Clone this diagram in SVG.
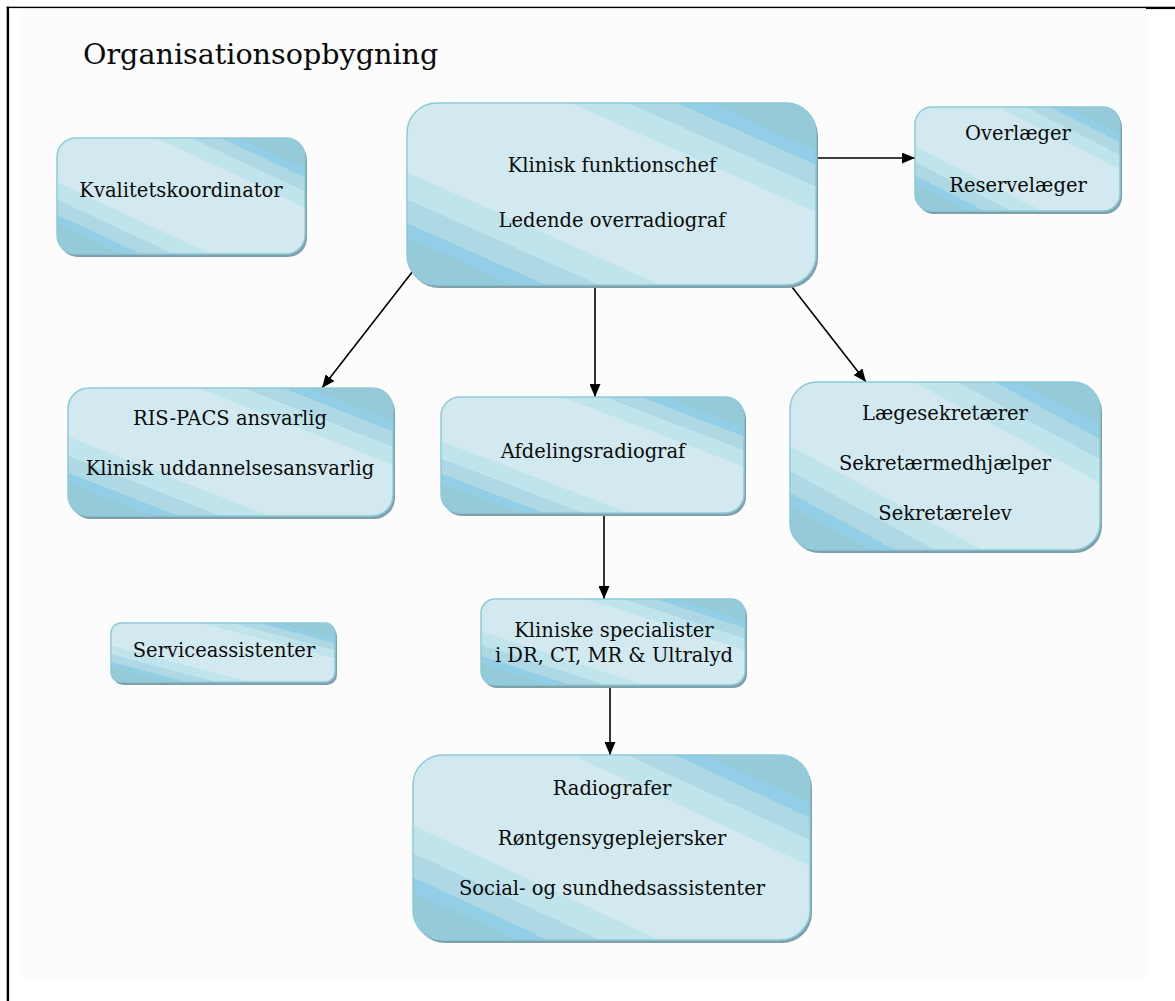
<svg xmlns="http://www.w3.org/2000/svg" width="1175" height="1001" viewBox="0 0 1175 1001">
<defs>
<linearGradient id="fillGrad" x1="0" y1="1" x2="1" y2="0">
<stop offset="0" stop-color="#95cbd8"/>
<stop offset="0.13" stop-color="#95cbd8"/>
<stop offset="0.13" stop-color="#92cfe7"/>
<stop offset="0.17" stop-color="#92cfe7"/>
<stop offset="0.17" stop-color="#aed8e3"/>
<stop offset="0.235" stop-color="#aed8e3"/>
<stop offset="0.235" stop-color="#c0e4eb"/>
<stop offset="0.31" stop-color="#c0e4eb"/>
<stop offset="0.31" stop-color="#d2eaef"/>
<stop offset="0.70" stop-color="#d2eaef"/>
<stop offset="0.70" stop-color="#c0e4eb"/>
<stop offset="0.77" stop-color="#c0e4eb"/>
<stop offset="0.77" stop-color="#aed8e3"/>
<stop offset="0.83" stop-color="#aed8e3"/>
<stop offset="0.83" stop-color="#92cfe7"/>
<stop offset="0.87" stop-color="#92cfe7"/>
<stop offset="0.87" stop-color="#95cbd8"/>
<stop offset="1" stop-color="#95cbd8"/>
</linearGradient>
<marker id="arrow" markerUnits="userSpaceOnUse" markerWidth="13" markerHeight="11" refX="13" refY="5.5" orient="auto">
<path d="M0,0 L13,5.5 L0,11 z" fill="#000"/>
</marker>
</defs>
<style>
.shadow { fill: #7fa0aa; }
.box { fill: url(#fillGrad); stroke: #8ccad9; stroke-width: 1.5; }
.lbl { font-family: "DejaVu Serif", "Liberation Serif", serif; font-size: 19.5px; fill: #0a0a0a; text-anchor: middle; }
.title { font-family: "DejaVu Serif", "Liberation Serif", serif; font-size: 28.6px; fill: #0a0a0a; }
.conn { stroke: #000; stroke-width: 1.6; fill: none; marker-end: url(#arrow); }
</style>

<rect x="22" y="8" width="1124" height="970" fill="#fcfcfc"/>
<rect x="6.7" y="6.7" width="2.4" height="995" fill="#000"/>
<rect x="6.7" y="6.7" width="1140" height="1.4" fill="#000"/>
<rect x="1146" y="6.7" width="29" height="2.4" fill="#000"/>

<text class="title" x="83" y="64">Organisationsopbygning</text>

<g id="connectors">
<line class="conn" x1="818" y1="158" x2="915" y2="158"/>
<line class="conn" x1="413" y1="271" x2="322" y2="388"/>
<line class="conn" x1="595" y1="288" x2="595" y2="397"/>
<line class="conn" x1="792" y1="287" x2="866" y2="382"/>
<line class="conn" x1="604" y1="516" x2="604" y2="599"/>
<line class="conn" x1="610" y1="688" x2="610" y2="755"/>
</g>

<g id="kvalitet">
<rect class="shadow" x="59" y="141" width="248" height="116" rx="19"/>
<rect class="box" x="57" y="138" width="248" height="116" rx="19"/>
<text class="lbl" x="181" y="197">Kvalitetskoordinator</text>
</g>

<g id="chef">
<rect class="shadow" x="409" y="106" width="409" height="182" rx="30"/>
<rect class="box" x="407" y="103" width="409" height="182" rx="30"/>
<text class="lbl" x="612" y="172">Klinisk funktionschef</text>
<text class="lbl" x="612" y="227">Ledende overradiograf</text>
</g>

<g id="overlaeger">
<rect class="shadow" x="917" y="110" width="205" height="104" rx="17"/>
<rect class="box" x="915" y="107" width="205" height="104" rx="17"/>
<text class="lbl" x="1018" y="140">Overlæger</text>
<text class="lbl" x="1018" y="192">Reservelæger</text>
</g>

<g id="rispacs">
<rect class="shadow" x="70" y="391" width="325" height="128" rx="21"/>
<rect class="box" x="68" y="388" width="325" height="128" rx="21"/>
<text class="lbl" x="230" y="425">RIS-PACS ansvarlig</text>
<text class="lbl" x="230" y="475">Klinisk uddannelsesansvarlig</text>
</g>

<g id="afdeling">
<rect class="shadow" x="443" y="400" width="303" height="116" rx="19"/>
<rect class="box" x="441" y="397" width="303" height="116" rx="19"/>
<text class="lbl" x="593" y="458">Afdelingsradiograf</text>
</g>

<g id="sekretaer">
<rect class="shadow" x="792" y="385" width="310" height="168" rx="27"/>
<rect class="box" x="790" y="382" width="310" height="168" rx="27"/>
<text class="lbl" x="945" y="420">Lægesekretærer</text>
<text class="lbl" x="945" y="470">Sekretærmedhjælper</text>
<text class="lbl" x="945" y="520">Sekretærelev</text>
</g>

<g id="service">
<rect class="shadow" x="113" y="626" width="224" height="59" rx="10"/>
<rect class="box" x="111" y="623" width="224" height="59" rx="10"/>
<text class="lbl" x="224" y="657">Serviceassistenter</text>
</g>

<g id="specialister">
<rect class="shadow" x="483" y="602" width="264" height="86" rx="14"/>
<rect class="box" x="481" y="599" width="264" height="86" rx="14"/>
<text class="lbl" x="614" y="637">Kliniske specialister</text>
<text class="lbl" x="614" y="662">i DR, CT, MR &amp; Ultralyd</text>
</g>

<g id="radiografer">
<rect class="shadow" x="415" y="758" width="397" height="185" rx="30"/>
<rect class="box" x="413" y="755" width="397" height="185" rx="30"/>
<text class="lbl" x="612" y="795">Radiografer</text>
<text class="lbl" x="612" y="845">Røntgensygeplejersker</text>
<text class="lbl" x="612" y="895">Social- og sundhedsassistenter</text>
</g>
</svg>
